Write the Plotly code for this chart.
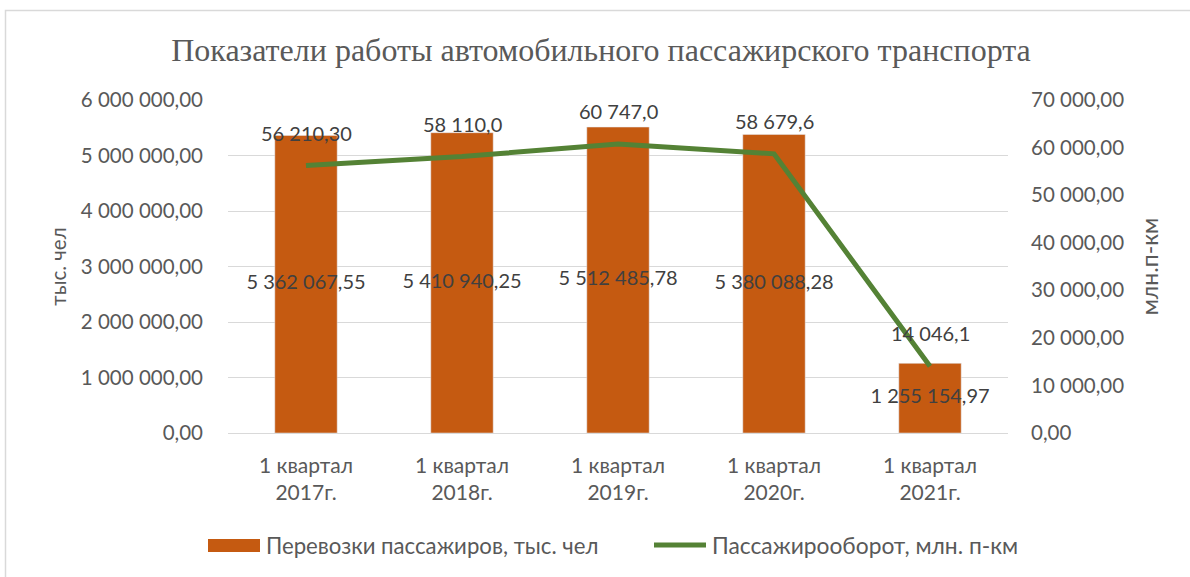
import plotly.graph_objects as go

categories = ["1 квартал<br>2017г.", "1 квартал<br>2018г.", "1 квартал<br>2019г.",
              "1 квартал<br>2020г.", "1 квартал<br>2021г."]
passengers = [5362067.55, 5410940.25, 5512485.78, 5380088.28, 1255154.97]
passengers_text = ["5 362 067,55", "5 410 940,25", "5 512 485,78", "5 380 088,28", "1 255 154,97"]
turnover = [56210.30, 58110.0, 60747.0, 58679.6, 14046.1]
turnover_text = ["56 210,30", "58 110,0", "60 747,0", "58 679,6", "14 046,1"]

title_text = "Показатели работы автомобильного пассажирского транспорта"
legend_names = ["Перевозки пассажиров, тыс. чел", "Пассажирооборот, млн. п-км"]
bar_color = "#C55A11"
line_color = "#548235"

FONT = "Lato"
TICK = "#595959"
LABEL = "#404040"

W, H = 1190, 577
pw, ph = 780, 333
L, T = 228, 100
R = W - L - pw
B = H - T - ph


def px(X):  # page x -> paper x
    return (X - L) / pw


def py(Y):  # page y -> paper y
    return (T + ph - Y) / ph


fig = go.Figure()
fig.add_trace(go.Bar(x=categories, y=passengers, name=legend_names[0], marker_color=bar_color,
                     width=0.4, yaxis="y", showlegend=False))
fig.add_trace(go.Scatter(x=categories, y=turnover, name=legend_names[1], mode="lines",
                         line=dict(color=line_color, width=5), yaxis="y2", showlegend=False))
fig.add_trace(go.Scatter(x=categories, y=[v / 2 for v in passengers], text=passengers_text,
                         mode="text", textposition="middle center",
                         textfont=dict(family=FONT, size=20, color=LABEL),
                         showlegend=False, hoverinfo="skip", yaxis="y"))

for c, v, t in zip(categories, turnover, turnover_text):
    fig.add_annotation(x=c, y=v, yref="y2", text=t, showarrow=False, yshift=33,
                       font=dict(family=FONT, size=20, color=LABEL))

# chart border
fig.add_shape(type="rect", xref="paper", yref="paper",
              x0=px(5.5), x1=px(1215), y0=py(600), y1=py(10.5),
              line=dict(color="#D9D9D9", width=1.5), fillcolor="rgba(0,0,0,0)", layer="below")

# legend (drawn)
fig.add_shape(type="rect", xref="paper", yref="paper", x0=px(208), x1=px(260),
              y0=py(552), y1=py(539), fillcolor=bar_color, line=dict(width=0))
fig.add_annotation(xref="paper", yref="paper", x=px(264), y=py(545), xanchor="left",
                   yanchor="middle", text=legend_names[0], showarrow=False,
                   font=dict(family=FONT, size=22.2, color=TICK))
fig.add_shape(type="line", xref="paper", yref="paper", x0=px(654), x1=px(706),
              y0=py(545), y1=py(545), line=dict(color=line_color, width=5))
fig.add_annotation(xref="paper", yref="paper", x=px(710), y=py(545), xanchor="left",
                   yanchor="middle", text=legend_names[1], showarrow=False,
                   font=dict(family=FONT, size=22.8, color=TICK))

fig.update_layout(
    width=W, height=H,
    margin=dict(l=L, r=R, t=T, b=B),
    paper_bgcolor="white", plot_bgcolor="white",
    separators=", ",
    font=dict(family=FONT, size=20, color=TICK),
    title=dict(text=title_text, x=601 / W, xanchor="center", y=1 - 50 / H,
               yanchor="middle", yref="container",
               font=dict(family="Liberation Serif", size=32, color=TICK)),
    xaxis=dict(showgrid=False, showline=False, ticks="", ticklabelstandoff=18,
               tickfont=dict(family=FONT, size=21, color=TICK)),
    yaxis=dict(range=[0, 6000000], dtick=1000000, tickformat=",.2f",
               showgrid=True, gridcolor="#D9D9D9", gridwidth=1, zeroline=True,
               zerolinecolor="#D9D9D9", zerolinewidth=1, showline=False,
               ticklabelstandoff=24,
               title=dict(text="тыс. чел", standoff=8,
                          font=dict(family=FONT, size=20.5, color=TICK)),
               tickfont=dict(family=FONT, size=20.5, color=TICK)),
    yaxis2=dict(range=[0, 70000], dtick=10000, tickformat=",.2f", overlaying="y", side="right",
                showgrid=False, zeroline=False, showline=False, ticklabelstandoff=22,
                title=dict(text="млн.п-км", standoff=18,
                           font=dict(family=FONT, size=23, color=TICK)),
                tickfont=dict(family=FONT, size=20.5, color=TICK)),
    showlegend=False,
)

fig.write_html("out.html", config={"displayModeBar": False},
               post_script="document.body.style.margin='0';document.body.style.overflow='hidden';")
